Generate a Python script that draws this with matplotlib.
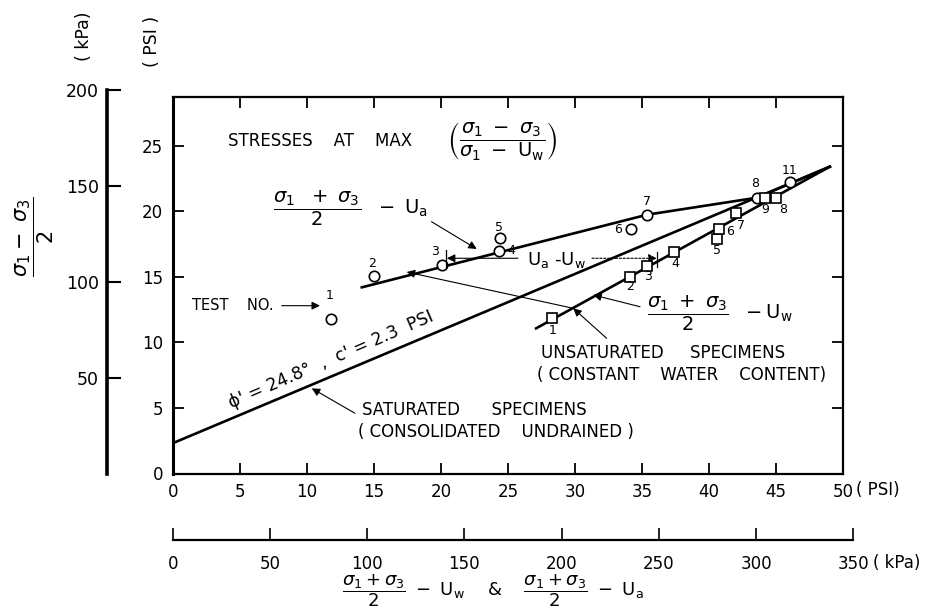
import matplotlib.pyplot as plt

# test results, PSI  (x = (s1+s3)/2 - u , y = (s1-s3)/2)
ua_tests = ['1', '2', '3', '4', '5', '6', '7', '8', '11']
ua_p = [11.8, 15.0, 20.06, 24.36, 24.4, 34.2, 35.4, 43.55, 46.0]
ua_q = [11.79, 15.08, 15.92, 16.98, 17.95, 18.64, 19.76, 21.05, 22.23]

uw_tests = ['1', '2', '3', '4', '5', '6', '7', '9', '8']
uw_p = [28.3, 34.1, 35.4, 37.4, 40.57, 40.76, 41.98, 44.15, 45.0]
uw_q = [11.85, 15.02, 15.84, 16.89, 17.9, 18.64, 19.86, 21.05, 21.05]

# drawn lines
sat_p = [0, 49.0]
sat_q = [2.31, 23.42]
uw_line_p = [27.1, 49.0]
uw_line_q = [11.08, 23.42]
ua_line_p = [14.1, 35.4, 43.55, 49.0]
ua_line_q = [14.21, 19.76, 21.05, 23.42]

psi_ticks = [0, 5, 10, 15, 20, 25, 30, 35, 40, 45, 50]
psi_yticks = [0, 5, 10, 15, 20, 25]
kpa_yticks = [50, 100, 150, 200]
kpa_xticks = [0, 50, 100, 150, 200, 250, 300, 350]

# label offsets in pixels next to each point
ua_offs = [(-1, 24), (-2, 12), (-7, 13), (12, 1), (-1, 11), (-13, 0), (0, 13), (-2, 14), (0, 12)]
uw_offs = [(0, -12), (0, -10), (1, -11), (1, -11), (0, -11), (11, -2), (5, -12), (0, -12), (7, -12)]

W, H = 938, 612
fig = plt.figure(figsize=(W / 100, H / 100), dpi=100)
plt.rcParams['font.family'] = ['DejaVu Sans']

ax = fig.add_axes([172.7 / W, 1 - 473.5 / H, (843.2 - 172.7) / W, (473.5 - 97) / H])
ax.set_xlim(0, 50)
ax.set_ylim(0, 28.74)
ax.set_xticks(psi_ticks)
ax.set_yticks(psi_yticks)
ax.tick_params(direction='in', length=8, width=1.3, labelsize=12, top=True, right=True)
ax.tick_params(axis='x', pad=7)
ax.tick_params(axis='y', pad=7)
for s in ax.spines.values():
    s.set_linewidth(1.6)
ax.spines['left'].set_linewidth(2.2)
ax.text(50.95, -1.26, '( PSI)', fontsize=12, va='center', ha='left', clip_on=False)

# lines
ax.plot(sat_p, sat_q, color='black', lw=1.9)
ax.plot(uw_line_p, uw_line_q, color='black', lw=1.9)
ax.plot(ua_line_p, ua_line_q, color='black', lw=1.9)

ax.plot(ua_p, ua_q, 'o', ms=7.5, mfc='white', mec='black', mew=1.2)
ax.plot(uw_p, uw_q, 's', ms=7.5, mfc='white', mec='black', mew=1.2)

for t, x, y, o in zip(ua_tests, ua_p, ua_q, ua_offs):
    ax.annotate(t, (x, y), xytext=o, textcoords='offset pixels', ha='center', va='center', fontsize=9)
for t, x, y, o in zip(uw_tests, uw_p, uw_q, uw_offs):
    ax.annotate(t, (x, y), xytext=o, textcoords='offset pixels', ha='center', va='center', fontsize=9)

arr = dict(arrowstyle='-|>', color='black', lw=0.8, mutation_scale=12, shrinkA=0, shrinkB=0)

ax.text(4.12, 25.4, 'STRESSES    AT    MAX', fontsize=12, va='center', ha='left')
ax.text(24.56, 25.4, r'$\left(\dfrac{\sigma_1\ -\ \sigma_3}{\sigma_1\ -\ \mathrm{U_w}}\right)$',
        fontsize=14, va='center', ha='center')

ax.text(13.24, 20.27, r'$\dfrac{\sigma_1\ \ +\ \sigma_3}{2}\ \ -\ \mathrm{U_a}$', fontsize=14,
        va='center', ha='center')
ax.annotate('', xy=(22.67, 17.14), xytext=(19.3, 19.22), arrowprops=arr)

ax.text(40.8, 12.25, r'$\dfrac{\sigma_1\ +\ \sigma_3}{2}\ \ -\mathrm{U_w}$', fontsize=14,
        va='center', ha='center')
ax.annotate('', xy=(31.36, 13.63), xytext=(34.85, 12.73), arrowprops=arr)

ax.text(27.5, 9.22, 'UNSATURATED     SPECIMENS', fontsize=12, va='center', ha='left')
ax.text(27.17, 7.52, '( CONSTANT    WATER    CONTENT)', fontsize=12, va='center', ha='left')
ax.annotate('', xy=(29.87, 12.61), xytext=(32.36, 10.32), arrowprops=arr)
ax.annotate('', xy=(17.45, 15.38), xytext=(29.87, 12.61), arrowprops=arr)

ax.text(14.09, 4.85, 'SATURATED      SPECIMENS', fontsize=12, va='center', ha='left')
ax.text(13.82, 3.17, '( CONSOLIDATED    UNDRAINED )', fontsize=12, va='center', ha='left')
ax.annotate('', xy=(10.37, 6.5), xytext=(13.59, 4.6), arrowprops=arr)

ax.text(1.42, 12.81, 'TEST    NO.', fontsize=10.5, va='center', ha='left')
ax.annotate('', xy=(10.98, 12.81), xytext=(8.13, 12.81), arrowprops=arr)

ax.text(11.8, 8.66, "\u03d5' = 24.8\u00b0  ,  c' = 2.3  PSI", fontsize=12.5, rotation=23.4,
        va='center', ha='center', rotation_mode='anchor')

ax.text(26.42, 16.3, r'U$_\mathrm{a}$ -U$_\mathrm{w}$', fontsize=13, va='center', ha='left')
ax.annotate('', xy=(20.45, 16.43), xytext=(25.75, 16.43), arrowprops=arr)
ax.annotate('', xy=(36.1, 16.43), xytext=(31.27, 16.43),
            arrowprops=dict(arr, linestyle=(0, (2, 1.5))))
ax.plot([20.4, 20.4], [15.79, 17.06], color='black', lw=0.9)
ax.plot([36.1, 36.1], [15.79, 16.93], color='black', lw=0.9)

# kPa ordinate
axk = fig.add_axes([107 / W, 1 - 474 / H, 0.0005, (474 - 90) / H])
axk.set_ylim(0, 200)
axk.set_yticks(kpa_yticks)
axk.set_xticks([])
axk.patch.set_visible(False)
for k in ['top', 'right', 'bottom']:
    axk.spines[k].set_visible(False)
axk.spines['left'].set_linewidth(2.6)
axk.tick_params(axis='y', direction='in', length=10, width=1.5, labelsize=12.5, pad=6)

# kPa abscissa
axx = fig.add_axes([172.7 / W, 1 - 540 / H, (853.4 - 172.7) / W, 0.0005])
axx.set_xlim(0, 350)
axx.set_xticks(kpa_xticks)
axx.set_yticks([])
axx.patch.set_visible(False)
for k in ['top', 'right', 'left']:
    axx.spines[k].set_visible(False)
axx.spines['bottom'].set_linewidth(1.6)
axx.tick_params(axis='x', direction='in', length=9, width=1.2, labelsize=12, pad=11)
fig.text(873 / W, 1 - 563 / H, '( kPa)', fontsize=12, ha='left', va='center')

fig.text(84 / W, 1 - 36 / H, '( kPa)', rotation=90, fontsize=12.5, ha='center', va='center')
fig.text(152 / W, 1 - 41 / H, '( PSI )', rotation=90, fontsize=12.5, ha='center', va='center')
fig.text(35 / W, 1 - 237 / H, r'$\dfrac{\sigma_1 -\ \sigma_3}{2}$', rotation=90, fontsize=15,
         ha='center', va='center')
fig.text(493 / W, 1 - 591 / H,
         r'$\dfrac{\sigma_1 + \sigma_3}{2}\ -\ \mathrm{U_w}$    &    $\dfrac{\sigma_1 + \sigma_3}{2}\ -\ \mathrm{U_a}$',
         fontsize=13, ha='center', va='center')

fig.savefig('out.png', dpi=100)
